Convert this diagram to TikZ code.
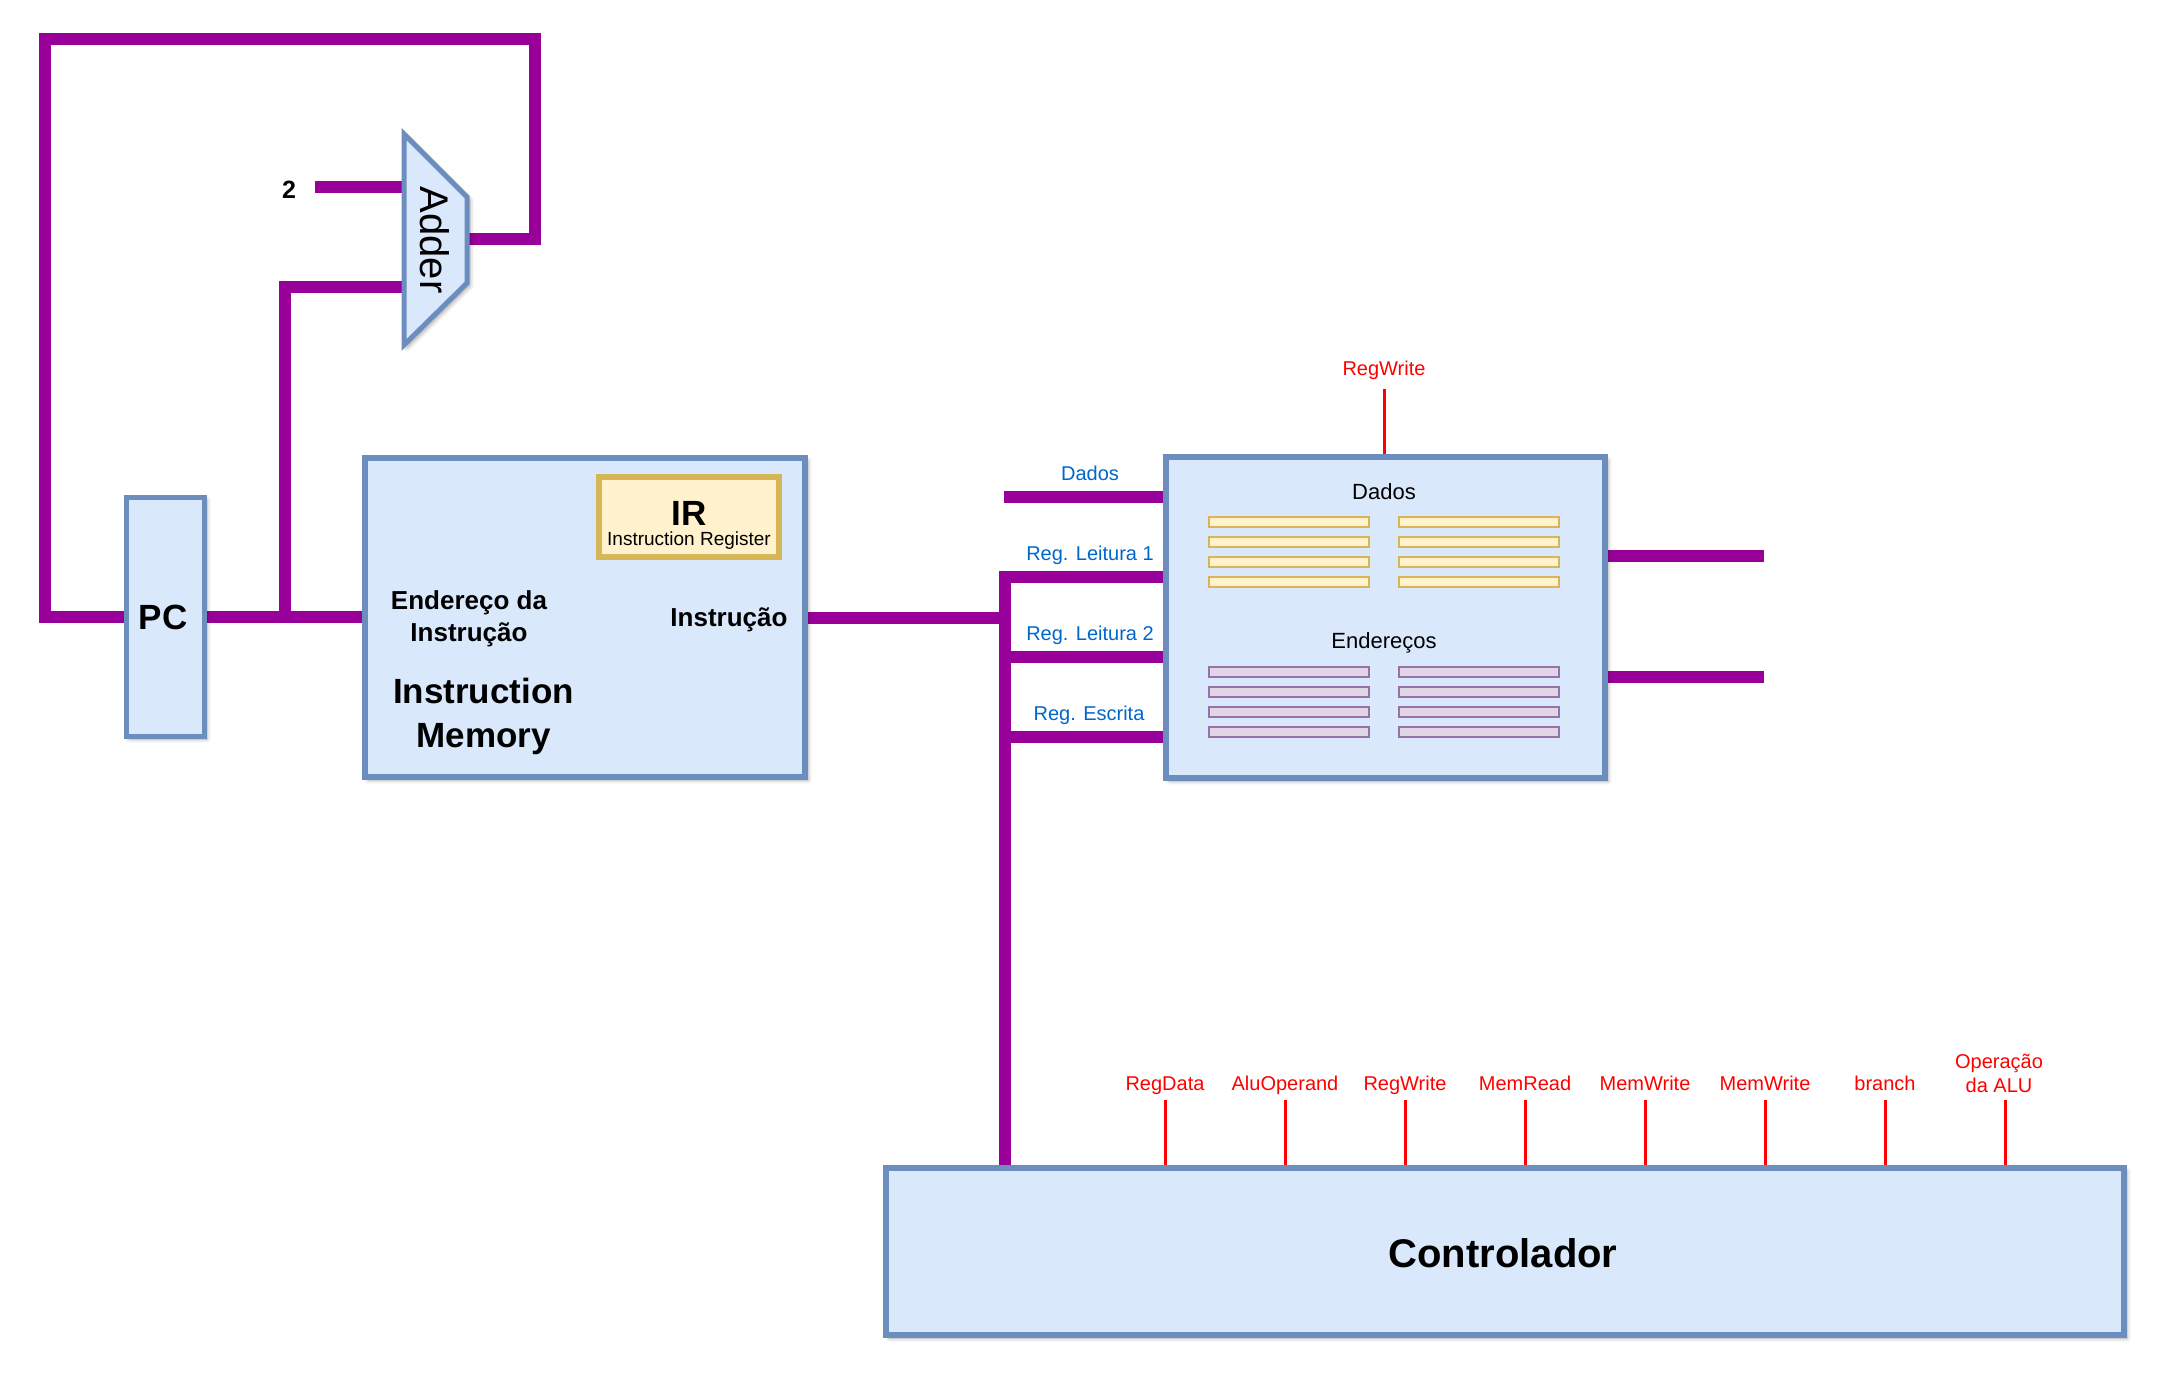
\documentclass[tikz,border=0pt]{standalone}
\usepackage{fontspec}
\setmainfont{Liberation Sans}
\usetikzlibrary{shadows.blur,calc}

\definecolor{wire}{RGB}{153,0,153}
\definecolor{boxfill}{HTML}{DAE8FC}
\definecolor{boxline}{HTML}{6C8EBF}
\definecolor{irfill}{HTML}{FFF2CC}
\definecolor{irline}{HTML}{D6B656}
\definecolor{adrfill}{HTML}{E1D5E7}
\definecolor{adrline}{HTML}{9673A6}
\definecolor{sigred}{RGB}{255,0,0}
\definecolor{sigblue}{RGB}{0,102,204}

\pgfdeclarelayer{wires}
\pgfsetlayers{wires,main}

\tikzset{
  softshadow/.style={blur shadow={shadow xshift=1.5pt, shadow yshift=-1.5pt,
      shadow blur radius=2pt, shadow opacity=35}},
  block/.style={draw=boxline, fill=boxfill, line width=3pt, inner sep=0pt, softshadow},
  regbox/.style={draw=irline, fill=irfill, line width=3pt, inner sep=0pt},
  bus/.style={draw=wire, line width=6pt, line join=miter},
  ctl/.style={draw=sigred, line width=1.5pt},
  ctllabel/.style={text=sigred, font=\fontsize{10}{12}\selectfont, inner sep=0pt},
  portlabel/.style={text=sigblue, font=\fontsize{10}{12}\selectfont, inner sep=0pt, anchor=base},
  datacell/.style={draw=irline, fill=irfill, line width=0.75pt, inner sep=0pt,
      minimum width=80pt, minimum height=5pt},
  addrcell/.style={draw=adrline, fill=adrfill, line width=0.75pt, inner sep=0pt,
      minimum width=80pt, minimum height=5pt},
  plain/.style={inner sep=0pt},
}

\begin{document}
\begin{tikzpicture}[x=0.5pt,y=-0.5pt]
\useasboundingbox (0,0) rectangle (2164,1377);

% ---------------- blocks ----------------
\node[block, draw=boxline, line width=2.5pt, minimum width=39pt, minimum height=119.5pt] (pc) at (165,616.5) {};
\node[plain, anchor=base, font=\bfseries\fontsize{17.5}{20}\selectfont] (pc-label) at (163,629) {PC};

\node[block, minimum width=220pt, minimum height=159.5pt] (im) at (585,617.5) {};
\node[regbox, minimum width=90pt, minimum height=40pt] (ir) at (689,517) {};
\node[plain, anchor=base, font=\bfseries\fontsize{17.5}{20}\selectfont] (ir-title) at (689,525) {IR};
\node[plain, anchor=base, font=\fontsize{9.5}{11}\selectfont] (ir-sub) at (689,545) {Instruction Register};
\node[plain, align=center, font=\bfseries\fontsize{13}{16}\selectfont] (im-addr) at (469,619) {Endereço da\\Instrução};
\node[plain, anchor=base, font=\bfseries\fontsize{13}{16}\selectfont] (im-out) at (729,626) {Instrução};
\node[plain, align=center, font=\bfseries\fontsize{17.5}{22}\selectfont] (im-title) at (483.5,716) {Instruction\\Memory};

\node[block, minimum width=219.5pt, minimum height=160.5pt] (reg) at (1385.5,617.5) {};
\node[plain, anchor=base, font=\fontsize{11}{13}\selectfont] (reg-data) at (1384,499) {Dados};
\node[plain, anchor=base, font=\fontsize{11}{13}\selectfont] (reg-addr) at (1384,648) {Endereços};
\foreach \r/\y in {1/522,2/542,3/562,4/582}{
  \node[datacell] (dcell-\r-a) at (1289,\y) {};
  \node[datacell] (dcell-\r-b) at (1479,\y) {};
}
\foreach \r/\y in {1/672,2/692,3/712,4/732}{
  \node[addrcell] (acell-\r-a) at (1289,\y) {};
  \node[addrcell] (acell-\r-b) at (1479,\y) {};
}

\node[block, minimum width=619pt, minimum height=83.5pt] (ctrl) at (1505,1251.5) {};
\node[plain, anchor=base, font=\bfseries\fontsize{20}{24}\selectfont] (ctrl-label) at (1503,1267) {Controlador};

% ---------------- adder ----------------
\coordinate (adder-tl) at (404,134);
\coordinate (adder-tr) at (467,197);
\coordinate (adder-br) at (467,283);
\coordinate (adder-bl) at (404,345);
\coordinate (adder-in1) at (404,186.5);
\coordinate (adder-in2) at (404,286.5);
\coordinate (adder-out) at (467,238.5);
\draw[draw=boxline, fill=boxfill, line width=2.5pt, line join=miter, softshadow]
  (adder-tl) -- (adder-tr) -- (adder-br) -- (adder-bl) -- cycle;
\node[plain, rotate=-90, font=\fontsize{20}{24}\selectfont] (adder) at (435,240) {Adder};

\node[plain, anchor=base, font=\bfseries\fontsize{12.5}{15}\selectfont] (two) at (289,198) {2};
\coordinate (two-in) at (315,186.5);

% ---------------- buses ----------------
\coordinate (pc-tap) at (284.5,616.5);
\coordinate (loop-ne) at (535,38.5);
\coordinate (loop-nw) at (45,38.5);
\coordinate (bus-top) at (1005,577);
\coordinate (rd2) at (1005,657);
\coordinate (wr) at (1005,737);
\coordinate (din) at (1004,497);
\coordinate (out1) at (1764,556);
\coordinate (out2) at (1764,676.5);

\begin{pgfonlayer}{wires}
  \draw[bus] (pc.east) -- (pc.east -| im.west);
  \draw[bus] (pc-tap) |- (adder-in2);
  \draw[bus] (two-in) -- (adder-in1);
  \draw[bus] (adder-out) -| (loop-ne) -- (loop-nw) |- (pc.west);
  \draw[bus] (im.east) -- (im.east -| bus-top);
  \draw[bus] (reg.west |- bus-top) -- (bus-top) -- (bus-top |- ctrl.north);
  \draw[bus] (rd2) -- (rd2 -| reg.west);
  \draw[bus] (wr) -- (wr -| reg.west);
  \draw[bus] (din) -- (din -| reg.west);
  \draw[bus] (out1 -| reg.east) -- (out1);
  \draw[bus] (out2 -| reg.east) -- (out2);
\end{pgfonlayer}

% port labels of the register bank
\node[portlabel] (lbl-din) at (1090,480) {Dados};
\node[portlabel] (lbl-rd1) at (1090,560) {Reg. Leitura 1};
\node[portlabel] (lbl-rd2) at (1090,640) {Reg. Leitura 2};
\node[portlabel] (lbl-wr) at (1089,720) {Reg. Escrita};

% ---------------- control signals ----------------
\coordinate (rw-top) at (1384,389);
\draw[ctl] (rw-top |- reg.north) -- (rw-top);
\node[ctllabel, anchor=base] (rw-label) at (1384,375) {RegWrite};

\foreach \i/\x/\t in {1/1165/RegData, 2/1285/AluOperand, 3/1405/RegWrite,
                      4/1525/MemRead, 5/1645/MemWrite, 6/1765/MemWrite, 7/1885/branch}{
  \coordinate (sig-\i) at (\x,1100);
  \draw[ctl] (sig-\i |- ctrl.north) -- (sig-\i);
  \node[ctllabel, anchor=base] (sig-label-\i) at (\x,1090) {\t};
}
\coordinate (sig-8) at (2005,1100);
\draw[ctl] (sig-8 |- ctrl.north) -- (sig-8);
\node[ctllabel, align=center] (sig-label-8) at (1999,1073) {Operação\\da ALU};

\end{tikzpicture}
\end{document}
